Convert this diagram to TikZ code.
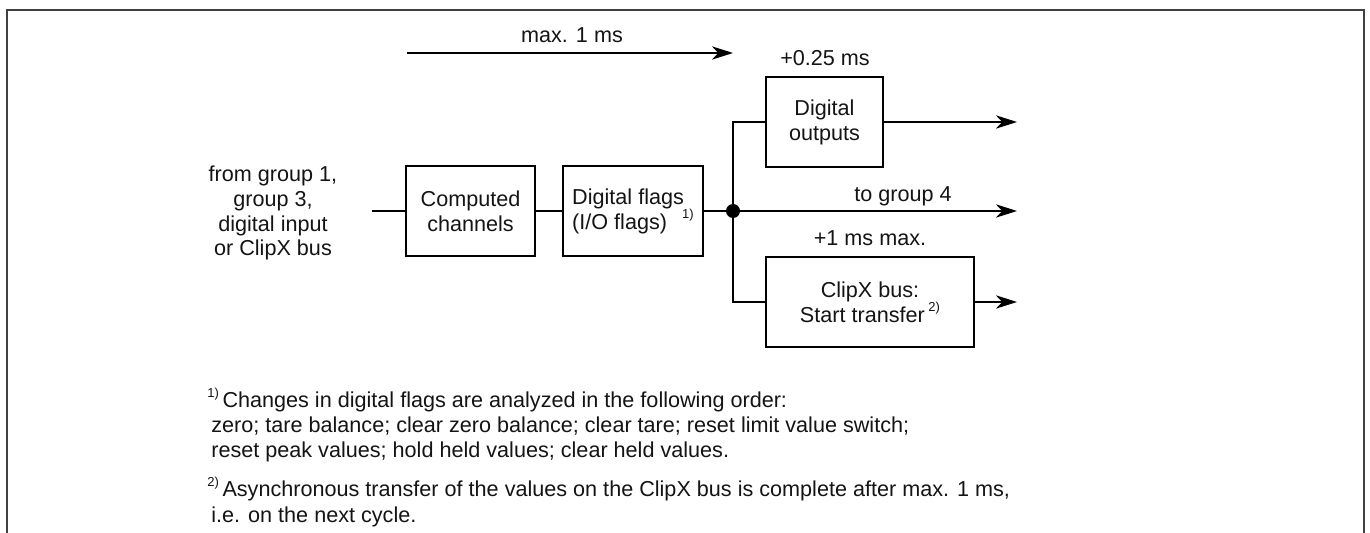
\documentclass[tikz,border=0pt]{standalone}
\usepackage{fontspec}
\setmainfont{Liberation Sans}
\usetikzlibrary{arrows.meta}
\newcommand{\fnmark}[1]{\raisebox{0.48em}{\fontsize{7.4}{8}\selectfont #1}}
\begin{document}
\begin{tikzpicture}[x=0.02cm,y=-0.02cm,
  every node/.style={font=\fontsize{12.3pt}{14.17pt}\selectfont, text=black!92},
  blk/.style={draw, line width=0.85pt, minimum height=1.8cm, inner sep=0pt, align=center},
  conn/.style={line width=0.85pt},
  arr/.style={line width=0.85pt, -{Stealth[length=12pt,width=7.6pt,inset=3.6pt]}},
  lbl/.style={inner sep=0pt, anchor=base},
  fn/.style={inner sep=0pt, anchor=base west}]
\useasboundingbox (0,0) rectangle (1370,533);
% frame
\draw[line width=0.9pt, black!75] (7,534) -- (7,10) -- (1364,10) -- (1364,534);

% top timing arrow
\coordinate (tstart) at (407,53);
\coordinate (tend) at (733,53);
\draw[arr] (tstart) -- (tend);
\node[lbl] (tlab) at (572,43) {max. 1 ms};

% input
\node[inner sep=0pt, align=center] (inlab) at (273,213) {from group 1,\\group 3,\\digital input\\or ClipX bus};
\coordinate (in) at (372,211);

% blocks
\node[blk, minimum width=2.58cm] (cc) at (470.5,211) {Computed\\channels};
\node[blk, minimum width=2.80cm, align=left] (df) at (633,211) {Digital flags\\(I/O flags)\hspace{0.7em}\fnmark{1)}};
\node[blk, minimum width=2.34cm] (do) at (824.5,122) {Digital\\outputs};
\node[blk, minimum width=4.16cm] (cx) at (870,302) {ClipX bus:\\Start transfer\,\fnmark{2)}};

% junction
\node[circle, fill=black, inner sep=0pt, minimum size=0.28cm] (j) at (733,211) {};

% outputs
\coordinate (o1) at (1017,122);
\coordinate (o2) at (1017,211);
\coordinate (o3) at (1017,302);

% connectors
\draw[conn] (in) -- (cc.west);
\draw[conn] (cc.east) -- (df.west);
\draw[conn] (df.east) -- (j);
\draw[conn] (j) |- (do.west);
\draw[conn] (j) |- (cx.west);
\draw[arr] (do.east) -- (o1);
\draw[arr] (j) -- (o2);
\draw[arr] (cx.east) -- (o3);

% labels
\node[lbl] (l025) at (825,66) {+0.25 ms};
\node[lbl] (lg4) at (903,202) {to group 4};
\node[lbl] (l1ms) at (870,246) {+1 ms max.};

% footnotes
\node[fn] (f1a) at (207,408) {\fnmark{1)}\,Changes in digital flags are analyzed in the following order:};
\node[fn] (f1b) at (211,433) {zero; tare balance; clear zero balance; clear tare; reset limit value switch;};
\node[fn] (f1c) at (211,458) {reset peak values; hold held values; clear held values.};
\node[fn] (f2a) at (207,497) {\fnmark{2)}\,Asynchronous transfer of the values on the ClipX bus is complete after max. 1 ms,};
\node[fn] (f2b) at (211,522) {i.e. on the next cycle.};
\end{tikzpicture}
\end{document}
